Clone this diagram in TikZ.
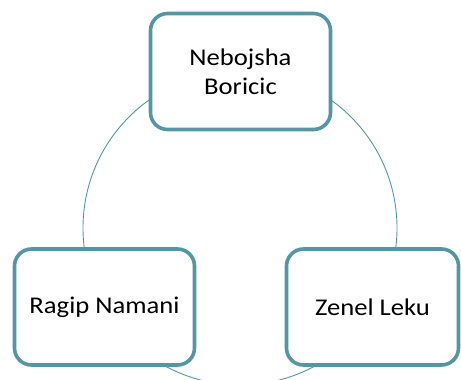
\documentclass[tikz,border=0pt]{standalone}
\usepackage{fontspec}
\setmainfont{Carlito}[FakeStretch=1.11]
\definecolor{boxline}{HTML}{5497A2}
\begin{document}
\begin{tikzpicture}[x=1pt,y=-1pt,
  person/.style={draw=boxline, line width=3.6pt, fill=white, rounded corners=17pt,
    minimum width=180pt, minimum height=116pt, inner sep=0pt, align=center,
    font=\fontsize{24}{29.3}\selectfont, text=black},
  ring/.style={draw=boxline, line width=0.9pt}]
\useasboundingbox (0,0) rectangle (461,380);
\coordinate (c) at (240,228);
\draw[ring] (c) circle (157);
\node[person] (top) at (240.5,71.5) {Nebojsha\\Boricic};
\node[person] (left) at (104.5,307) {Ragip Namani};
\node[person, minimum width=172pt] (right) at (372.5,307) {Zenel Leku};
\end{tikzpicture}
\end{document}
